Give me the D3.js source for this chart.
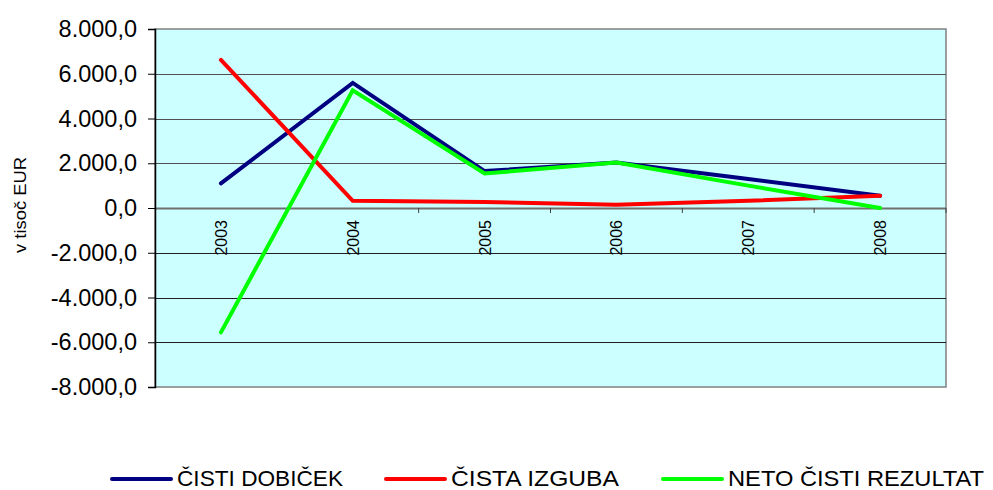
<!DOCTYPE html>
<html><head><meta charset="utf-8">
<script src="https://cdn.jsdelivr.net/npm/d3@7/dist/d3.min.js"></script>
<style>
body{margin:0;background:#fff;}
text{font-family:"Liberation Sans",Arial,sans-serif;fill:#000;}
</style></head>
<body>
<svg id="c" width="993" height="490"></svg>
<script>
const categories = ["2003","2004","2005","2006","2007","2008"];
const cistiDobicek = [1100, 5590, 1650, 2030, 1300, 550];
const cistaIzguba = [6620, 320, 270, 150, 320, 550];
const netoRezultat = [-5560, 5260, 1540, 2030, 1000, 0];
const seriesNames = ["ČISTI DOBIČEK", "ČISTA  IZGUBA", "NETO ČISTI REZULTAT"];
const yTicks = [-8000,-6000,-4000,-2000,0,2000,4000,6000,8000];

const svg = d3.select("#c");
const L=155, R=946, T=29, B=387;
const x = d3.scaleBand().domain(categories).range([L,R]);
const y = d3.scaleLinear().domain([-8000,8000]).range([B,T]);
const fmt = v => {
  const s = Math.abs(v).toFixed(1).split(".");
  const int = s[0].replace(/\B(?=(\d{3})+(?!\d))/g,".");
  return (v<0?"-":"")+int+","+s[1];
};

svg.append("rect").attr("x",L).attr("y",T).attr("width",R-L).attr("height",B-T)
  .attr("fill","#CCFFFF").attr("stroke","#808080").attr("stroke-width",1.5);

// gridlines
svg.append("g").selectAll("line").data(yTicks.filter(v=>v!==-8000 && v!==8000)).join("line")
  .attr("x1",L).attr("x2",R).attr("y1",d=>Math.round(y(d))+0.5).attr("y2",d=>Math.round(y(d))+0.5)
  .attr("stroke",d=>d===0?"#707070":(d>0?"#505050":"#202020")).attr("stroke-width",d=>d===0?2:1);

// y axis
const ya = svg.append("g").attr("transform",`translate(${L},0)`)
  .call(d3.axisLeft(y).tickValues(yTicks).tickSize(7).tickPadding(11).tickFormat(fmt));
ya.select(".domain").attr("stroke","#000").attr("stroke-width",1.5);
ya.selectAll(".tick line").attr("stroke","#000");
ya.selectAll("text").style("font-size","23.5px").attr("fill","#000");

// x ticks at band boundaries along zero line
const bounds = categories.slice(1).map(c=>x(c));
bounds.push(R);
svg.append("g").selectAll("line").data(bounds).join("line")
  .attr("x1",d=>d).attr("x2",d=>d).attr("y1",y(0)).attr("y2",y(0)+5)
  .attr("stroke","#404040").attr("stroke-width",1);

// x labels
svg.append("g").selectAll("text").data(categories).join("text")
  .attr("transform",d=>`translate(${x(d)+x.bandwidth()/2+6},220) rotate(-90)`)
  .attr("text-anchor","end").style("font-size","16px").text(d=>d);

// y title
svg.append("text").attr("transform","translate(26,205) rotate(-90)")
  .attr("text-anchor","middle").style("font-size","17px")
  .attr("textLength",96).attr("lengthAdjust","spacingAndGlyphs").text("v tisoč EUR");

const cx = d=>x(d)+x.bandwidth()/2;
const line = d3.line().x((d,i)=>cx(categories[i])).y(d=>y(d));
const colors = ["#000080","#FF0000","#00FF00"];
[cistiDobicek, cistaIzguba, netoRezultat].forEach((s,i)=>{
  svg.append("path").datum(s).attr("d",line).attr("fill","none")
    .attr("stroke",colors[i]).attr("stroke-width",4).attr("stroke-linejoin","miter").attr("stroke-linecap","round");
});

// legend
const legX = [112, 386, 663];
const legW = [166, 168, 256];
const lg = svg.append("g");
seriesNames.forEach((n,i)=>{
  lg.append("line").attr("x1",legX[i]).attr("x2",legX[i]+59).attr("y1",479).attr("y2",479)
    .attr("stroke",colors[i]).attr("stroke-width",4).attr("stroke-linecap","round");
  lg.append("text").attr("x",legX[i]+65).attr("y",486).style("font-size","22px")
    .attr("textLength",legW[i]).attr("lengthAdjust","spacingAndGlyphs").text(n);
});
</script>
</body></html>
